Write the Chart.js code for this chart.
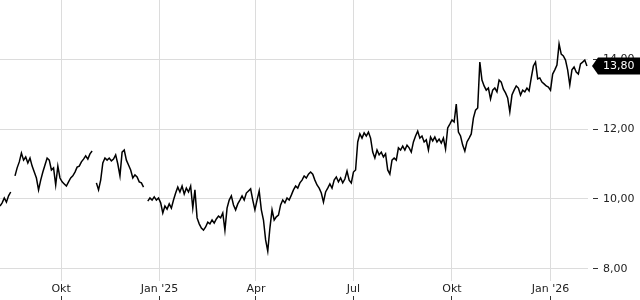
<!DOCTYPE html>
<html><head><meta charset="utf-8">
<script src="https://cdn.jsdelivr.net/npm/chart.js@4"></script>
<style>html,body{margin:0;padding:0;background:#fff}#wrap{width:640px;height:300px}</style>
</head><body><div id="wrap"><canvas id="c" width="640" height="300"></canvas></div>
<script>
// ---- data ----
const firstDate = '2024-08-05';   // first sample
const stepDays = 2;               // one sample every 2 days
const axisEndDate = '2026-02-05';
const prices = [
 9.80, 9.89,10.03, 9.91,10.09,10.20, null,10.66,10.89,11.06,
11.31,11.11,11.20,11.03,11.17,10.94,10.77,10.60,10.26,10.54,
10.77,10.97,11.17,11.11,10.83,10.89,10.40,10.94,10.60,10.49,
10.43,10.37,10.49,10.60,10.66,10.77,10.91,10.94,11.06,11.14,
11.23,11.14,11.29,11.37, null,10.46,10.26,10.54,11.03,11.17,
11.11,11.17,11.09,11.14,11.26,11.00,10.66,11.34,11.40,11.11,
10.97,10.83,10.60,10.69,10.63,10.49,10.46,10.34, null, 9.94,
10.03, 9.97,10.06, 9.97,10.03, 9.89, 9.60, 9.80, 9.71, 9.86,
 9.74, 9.97,10.17,10.34,10.20,10.37,10.14,10.31,10.20,10.37,
 9.74,10.26, 9.46, 9.29, 9.17, 9.11, 9.20, 9.34, 9.29, 9.40,
 9.31, 9.43, 9.51, 9.46, 9.60, 9.11, 9.74, 9.97,10.09, 9.83,
 9.69, 9.86, 9.97,10.09, 9.97,10.17,10.23,10.29, 9.97, 9.69,
 9.97,10.23, 9.69, 9.40, 8.83, 8.51, 9.17, 9.69, 9.40, 9.49,
 9.54, 9.83, 9.97, 9.89,10.03, 9.97,10.11,10.26,10.37,10.31,
10.46,10.54,10.66,10.60,10.71,10.77,10.71,10.54,10.40,10.31,
10.17, 9.91,10.20,10.31,10.43,10.31,10.54,10.63,10.49,10.60,
10.46,10.57,10.80,10.54,10.46,10.77,10.83,11.63,11.86,11.74,
11.89,11.80,11.91,11.74,11.34,11.17,11.40,11.26,11.34,11.20,
11.29,10.83,10.71,11.11,11.17,11.11,11.46,11.40,11.51,11.40,
11.54,11.46,11.34,11.63,11.80,11.94,11.74,11.80,11.63,11.69,
11.40,11.77,11.66,11.77,11.63,11.71,11.60,11.74,11.43,12.03,
12.14,12.26,12.20,12.71,11.91,11.80,11.54,11.37,11.63,11.74,
11.86,12.31,12.54,12.60,13.91,13.40,13.23,13.11,13.17,12.86,
13.11,13.17,13.06,13.40,13.34,13.14,13.03,12.89,12.49,12.97,
13.11,13.23,13.17,12.97,13.11,13.06,13.17,13.09,13.46,13.80,
13.91,13.43,13.46,13.34,13.29,13.23,13.20,13.11,13.57,13.69,
13.83,14.43,14.14,14.09,13.97,13.69,13.26,13.69,13.77,13.63,
13.57,13.86,13.91,13.97,13.80
];
const tickDates  = ['2024-10-01','2025-01-01','2025-04-01','2025-07-01','2025-10-01','2026-01-01'];
const tickLabels = ['Okt',"Jan '25",'Apr','Jul','Okt',"Jan '26"];
const yTicks = [8, 10, 12, 14];
const yMin = 7.657, yMax = 15.686;
const lastPrice = 13.80;

// ---- helpers ----
function dayNum(s){const [y,m,d]=s.split('-').map(Number);return Date.UTC(y,m-1,d)/86400000;}
const x0 = dayNum(firstDate);
const points = prices.map((v,i)=>({x:x0+i*stepDays, y:v}));
const fmt = v => v.toFixed(2).replace('.', ',');
const FONT = {family:'"DejaVu Sans", sans-serif', size:11};
const xTickBuilder = s => { s.ticks = tickDates.map(d=>({value:dayNum(d)})); };
const noPad = s => { s.paddingTop = 0; s.paddingBottom = 0; s.paddingLeft = 0; s.paddingRight = 0; };

const lastLabel = {
  id:'lastLabel',
  afterDraw(chart){
    const {ctx, chartArea, scales:{y}} = chart;
    const py = Math.round(y.getPixelForValue(lastPrice));
    const tip = chartArea.right + 4, body = tip + 6, end = chart.width, h = 8.5;
    ctx.save();
    ctx.fillStyle = '#000';
    ctx.beginPath();
    ctx.moveTo(tip, py); ctx.lineTo(body, py-h); ctx.lineTo(end, py-h);
    ctx.lineTo(end, py+h); ctx.lineTo(body, py+h); ctx.closePath(); ctx.fill();
    ctx.fillStyle = '#fff';
    ctx.font = '11px "DejaVu Sans", sans-serif';
    ctx.textBaseline = 'middle';
    ctx.fillText(fmt(lastPrice), chartArea.right + 15, py + 0.5);
    ctx.restore();
  }
};

new Chart(document.getElementById('c'), {
  type:'line',
  data:{datasets:[{data:points, borderColor:'#000', borderWidth:1.5, pointRadius:0, tension:0, spanGaps:false, fill:false}]},
  options:{
    responsive:false, animation:false, devicePixelRatio:1,
    layout:{padding:0},
    plugins:{legend:{display:false}, tooltip:{enabled:false}},
    scales:{
      x:{type:'linear', position:'bottom', weight:0, min:x0, max:dayNum(axisEndDate),
         afterBuildTicks:xTickBuilder,
         afterFit:s=>{s.height=15; noPad(s);},
         grid:{color:'#dcdcdc', drawTicks:false, lineWidth:1},
         border:{display:false},
         ticks:{autoSkip:false, maxRotation:0, padding:2, color:'#222', font:FONT,
                callback:(v,i)=>tickLabels[i]}},
      x2:{type:'linear', position:'bottom', weight:1, min:x0, max:dayNum(axisEndDate),
         afterBuildTicks:xTickBuilder,
         afterFit:s=>{s.height=4; noPad(s);},
         grid:{drawOnChartArea:false, drawTicks:true, tickLength:4, tickColor:'#333'},
         border:{display:false},
         ticks:{display:false}},
      y:{type:'linear', position:'right', min:yMin, max:yMax,
         afterBuildTicks:s=>{ s.ticks = yTicks.map(v=>({value:v})); },
         afterFit:s=>{s.width=52; noPad(s);},
         grid:{color:'#dcdcdc', drawTicks:true, tickLength:10, tickColor:'#333', tickBorderDash:[0,5,5,0]},
         border:{display:false},
         ticks:{padding:5, color:'#222', font:FONT, callback:v=>fmt(v)}}
    }
  },
  plugins:[lastLabel]
});
</script></body></html>
